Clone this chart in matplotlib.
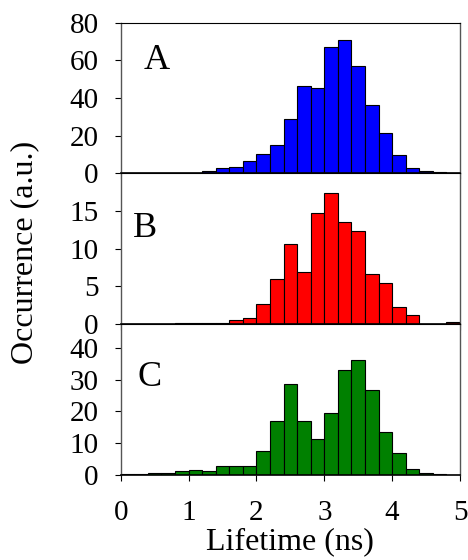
import numpy as np
import matplotlib
matplotlib.use("Agg")
import matplotlib.pyplot as plt

plt.rcParams['font.family'] = ['Liberation Serif', 'DejaVu Serif']

# bin left edges, width 0.2 ns, 0 .. 5 ns
bin_edges = np.arange(0, 5.0001, 0.2)

counts_a = [0, 0, 0, 0, 0, 0, 1.0, 2.8, 3.2, 6.4, 10.4, 15.2, 29.0, 46.2, 45.5,
            66.9, 70.8, 57.0, 36.5, 21.6, 9.6, 2.8, 1.2, 0.5, 0]
counts_b = [0, 0, 0, 0, 0.1, 0.1, 0.1, 0.15, 0.5, 0.75, 2.6, 6.0, 10.6, 6.9, 14.7,
            17.4, 13.5, 12.4, 6.7, 5.4, 2.2, 1.15, 0.05, 0.05, 0.25]
counts_c = [0.2, 0.3, 0.4, 0.6, 1.25, 1.35, 1.25, 2.8, 2.6, 2.7, 7.4, 16.9, 28.5, 17.0, 11.25,
            19.5, 33.0, 36.1, 26.7, 13.5, 6.7, 1.7, 0.4, 0.1, 0]

# letter, counts, colour, y max, y ticks, letter position (axes fraction)
panels = [
    ("A", counts_a, "#0000ff", 80, [0, 20, 40, 60, 80], (0.066, 0.78)),
    ("B", counts_b, "#ff0000", 20, [0, 5, 10, 15], (0.036, 0.665)),
    ("C", counts_c, "#008000", 47.5, [0, 10, 20, 30, 40], (0.05, 0.677)),
]

fig, axes = plt.subplots(3, 1, figsize=(4.68, 5.6), dpi=100, sharex=True)
fig.subplots_adjust(left=0.258, right=0.983, top=0.9595, bottom=0.1523, hspace=0)

for ax, (letter, counts, color, ymax, yticks, pos) in zip(axes, panels):
    ax.hist(bin_edges[:-1], bins=bin_edges, weights=counts, color=color,
            edgecolor="black", linewidth=0.8)
    ax.set_xlim(0, 5)
    ax.set_ylim(0, ymax)
    ax.set_yticks(yticks)
    ax.tick_params(direction="out", length=4, width=0.8, labelsize=21)
    ax.tick_params(axis="y", pad=12)
    ax.tick_params(axis="x", pad=14)
    for side in ["left", "right"]:
        ax.spines[side].set_color("#555555")
        ax.spines[side].set_linewidth(1.0)
    ax.spines["bottom"].set_linewidth(1.2)
    ax.text(pos[0], pos[1] - 0.03, letter, transform=ax.transAxes, fontsize=26,
            va="center", ha="left")

axes[-1].set_xticks([0, 1, 2, 3, 4, 5])
axes[-1].set_xlabel("Lifetime (ns)", fontsize=23, labelpad=1)
fig.text(0.052, 0.55, "Occurrence (a.u.)", rotation=90, fontsize=23,
         va="center", ha="center")

fig.savefig("out.png", dpi=100)
